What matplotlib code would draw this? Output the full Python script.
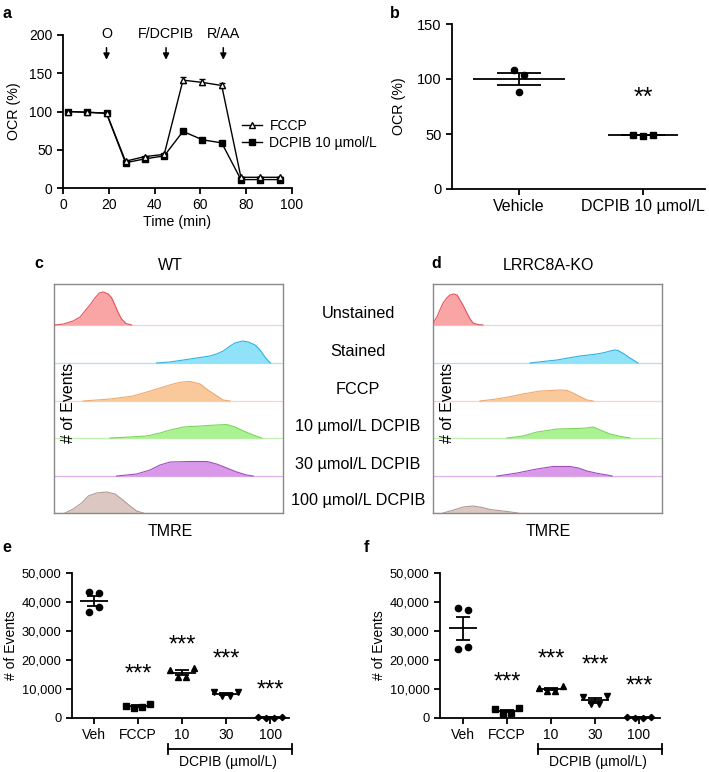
import numpy as np
import matplotlib.pyplot as plt
import matplotlib.transforms as mtransforms
from matplotlib.ticker import FuncFormatter

plt.rcParams['font.family'] = ['Liberation Sans', 'DejaVu Sans']
plt.rcParams['font.size'] = 10
plt.rcParams['axes.linewidth'] = 1.3
plt.rcParams['xtick.major.width'] = 1.3
plt.rcParams['ytick.major.width'] = 1.3
plt.rcParams['xtick.major.size'] = 4
plt.rcParams['ytick.major.size'] = 4

# ---------------------------------------------------------------------------
# Data
# ---------------------------------------------------------------------------

# a: Seahorse OCR trace
time_min = [2, 10.5, 19, 27.3, 35.6, 44.2, 52.4, 60.9, 69.3, 77.7, 86.1, 94.6]
ocr_fccp = [100, 99, 98, 35, 41, 44, 141, 138, 134, 14, 14, 14]
ocr_fccp_err = [0, 0, 0, 0, 0, 0, 4, 4, 3, 0, 0, 0]
ocr_dcpib = [100, 99, 97.5, 33, 38, 42, 74, 63, 59, 11, 11, 11]
inject_times = [19, 45, 70]
inject_labels = ["O", "F/DCPIB", "R/AA"]

# b: maximal OCR
b_groups = ["Vehicle", "DCPIB 10 µmol/L"]
b_vehicle = [108, 103.5, 88.5]
b_dcpib = [49.5, 48.5, 49.5]

# c/d: TMRE histograms (x = TMRE position in % of axis, h = relative count)
hist_rows = ["Unstained", "Stained", "FCCP", "10 µmol/L DCPIB",
             "30 µmol/L DCPIB", "100 µmol/L DCPIB"]

wt_x = [
    [0.4, 4.1, 8.4, 11.4, 13.5, 15.7, 17.9, 19.8, 21.5, 23.7, 25.2, 26.6,
     28.1, 29.5, 31.4, 33.9],
    [44.8, 50.7, 56.5, 62.3, 68.1, 71.0, 73.9, 76.9, 79.0, 82.4, 84.9, 87.8,
     90.0, 92.1, 93.6, 94.6],
    [12.7, 24.5, 34.5, 40.6, 46.3, 52.0, 55.9, 59.4, 63.8, 67.2, 71.2, 73.8,
     76.9],
    [24.5, 33.2, 40.5, 46.3, 50.7, 56.5, 63.8, 71.0, 75.4, 79.0, 82.7, 87.0,
     90.7],
    [27.4, 36.1, 41.9, 46.3, 50.7, 59.4, 66.7, 71.0, 75.4, 79.8, 84.1, 87.0],
    [4.8, 8.4, 12.1, 15.0, 18.6, 23.0, 26.6, 29.5, 33.2, 36.1, 39.0],
]
wt_h = [
    [0, 1, 4, 8, 14, 20, 27, 32, 33, 31, 27, 20, 12, 6, 1.5, 0],
    [0, 1, 3, 5, 7, 9, 12, 17, 20, 22, 21, 18, 13, 6, 2, 0],
    [0, 2, 5, 9, 13, 17, 19, 19.5, 17, 11, 5, 1, 0],
    [0, 1, 2, 5, 8, 11, 12, 13, 13.5, 11, 7, 3, 0],
    [0, 2, 6, 11, 14, 14.5, 14.5, 12, 8, 4, 1, 0],
    [0, 4, 10, 17, 20, 21, 19, 14, 7, 2, 0],
]
ko_x = [
    [0, 1.7, 3.0, 4.4, 6.0, 7.4, 9.2, 10.5, 11.8, 13.3, 14.8, 16.2, 17.5, 19.5,
     21.8],
    [42.4, 48.0, 54.1, 59.0, 64.2, 71.6, 75.0, 77.3, 79.5, 80.8, 83.5, 86.0,
     89.5],
    [20.5, 26.0, 30.6, 35.0, 39.3, 46.7, 52.0, 55.5, 58.5, 61.1, 64.5, 67.2,
     69.9],
    [32.3, 36.0, 39.3, 45.4, 50.0, 54.1, 62.9, 67.0, 69.9, 73.0, 77.3, 82.0,
     86.0],
    [27.9, 32.5, 36.7, 41.0, 45.4, 52.4, 59.8, 63.5, 67.2, 72.0, 76.0, 78.2],
    [4.4, 9.0, 13.1, 17.5, 21.5, 24.9, 28.5, 32.3, 37.1],
]
ko_h = [
    [2, 8, 15, 22, 27, 30, 31, 30, 25, 19, 12, 6, 2, 0.5, 0],
    [0, 1.5, 3, 5, 7, 9, 10.5, 12, 13, 12.5, 9, 5, 0],
    [0, 1.5, 3, 5, 7, 10, 10.5, 11, 10.5, 8, 4, 1, 0],
    [0, 1, 2, 6, 7.5, 9, 9.5, 10, 11, 8, 4, 1.5, 0],
    [0, 1.5, 3, 5, 7, 9.5, 9.5, 8, 5, 2.5, 1, 0],
    [0, 3, 6, 7, 5.5, 3.5, 2.5, 1.5, 0],
]

# e/f: TMRE-positive events
ef_labels = ["Veh", "FCCP", "10", "30", "100"]
e_veh = [43600, 43100, 36700, 38200]
e_fccp = [4200, 3600, 3800, 4700]
e_10 = [16700, 14200, 14200, 17400]
e_30 = [9000, 7600, 7600, 9000]
e_100 = [200, 150, 150, 200]
e_star_y = [None, 15000, 25000, 20200, 9600]

f_veh = [37800, 37300, 23900, 24500]
f_fccp = [3100, 1500, 1700, 3300]
f_10 = [10300, 9400, 9400, 10900]
f_30 = [7300, 4700, 4700, 7500]
f_100 = [200, 150, 150, 200]
f_star_y = [None, 12200, 20300, 18200, 10700]

# ---------------------------------------------------------------------------
# Layout helpers
# ---------------------------------------------------------------------------

W, H = 709, 772
fig = plt.figure(figsize=(W / 100, H / 100), dpi=100)


def add_ax(l, t, r, b):
    return fig.add_axes([l / W, 1 - b / H, (r - l) / W, (b - t) / H])


def ftext(x, y, s, **kw):
    fig.text(x / W, 1 - y / H, s, **kw)


def prism(ax):
    ax.spines["top"].set_visible(False)
    ax.spines["right"].set_visible(False)


def sem(v):
    v = np.asarray(v, float)
    return v.std(ddof=1) / np.sqrt(len(v))


# ---------------------------------------------------------------------------
# a
# ---------------------------------------------------------------------------
ax = add_ax(63, 35, 292, 188)
prism(ax)
ax.plot(time_min, ocr_dcpib, "-s", color="k", lw=1, ms=4.5, mfc="k",
        label="DCPIB 10 µmol/L", zorder=3)
ax.errorbar(time_min, ocr_fccp, yerr=ocr_fccp_err, fmt="none", ecolor="k",
            capsize=2, elinewidth=1, zorder=4)
ax.plot(time_min, ocr_fccp, "-^", color="k", lw=1, ms=5, mfc="white",
        mec="k", mew=1, label="FCCP", zorder=4)
ax.set_xlim(0, 100)
ax.set_ylim(0, 200)
ax.set_xticks(range(0, 101, 20))
ax.set_yticks(range(0, 201, 50))
ax.tick_params(labelsize=10)
ax.set_xlabel("Time (min)", fontsize=10.3, labelpad=2)
ax.set_ylabel("OCR (%)", fontsize=10.3, labelpad=6)
for t, lab in zip(inject_times, inject_labels):
    ax.annotate("", xy=(t, 164), xytext=(t, 187),
                arrowprops=dict(arrowstyle="-|>", color="k", lw=1.1,
                                mutation_scale=9),
                annotation_clip=False)
    ax.text(t, 201, lab, ha="center", va="center", fontsize=10.3, clip_on=False)
h, l = ax.get_legend_handles_labels()
ax.legend(h[::-1], l[::-1], loc="center left", bbox_to_anchor=(0.78, 0.35),
          frameon=False, fontsize=10, handlelength=1.5, handletextpad=0.5,
          labelspacing=0.2, borderaxespad=0, borderpad=0)

# ---------------------------------------------------------------------------
# b
# ---------------------------------------------------------------------------
ax = add_ax(452, 24, 705, 189)
prism(ax)
b_off = [[-0.04, 0.04, 0.0], [-0.08, 0.0, 0.08]]
b_half = [0.37, 0.28]
for i, (vals, mk) in enumerate(zip([b_vehicle, b_dcpib], ["o", "s"])):
    xs = [i + o for o in b_off[i]]
    ax.plot(xs, vals, mk, color="k", ms=4.5, zorder=3)
    m = np.mean(vals)
    ax.hlines(m, i - b_half[i], i + b_half[i], color="k", lw=1.3)
    ax.errorbar(i, m, yerr=sem(vals), color="k", capsize=16, elinewidth=1.3,
                capthick=1.3, fmt="none")
ax.text(1, 83, "**", ha="center", va="center", fontsize=18)
ax.set_xlim(-0.54, 1.5)
ax.set_ylim(0, 150)
ax.set_yticks([0, 50, 100, 150])
ax.set_xticks([0, 1])
ax.set_xticklabels(b_groups, fontsize=11.5)
ax.tick_params(axis="y", labelsize=10.5)
ax.set_ylabel("OCR (%)", fontsize=10.3, labelpad=8)

# ---------------------------------------------------------------------------
# c / d histograms
# ---------------------------------------------------------------------------
fill_colors = ["#f9a5a5", "#90e2f8", "#f9c99c", "#aaf292", "#d999e8", "#dcc7c3"]
edge_colors = ["#e2535b", "#2eb2e0", "#f0a86c", "#78d65c", "#a24cc0", "#b09a94"]
line_colors = ["#f6cfd2", "#a6e4f6", "#f9d6b8", "#c2f0b2", "#dcb0ea", "#d8c6c2"]
row_base = [188, 150, 112, 75, 37, 0]

for (l, r), xs_all, hs_all, title, tx in [((54, 283), wt_x, wt_h, "WT", 170),
                                         ((433, 662), ko_x, ko_h, "LRRC8A-KO", 548)]:
    ax = add_ax(l, 284, r, 513)
    for i in range(6):
        base = row_base[i]
        x = np.asarray(xs_all[i])
        hh = np.asarray(hs_all[i])
        if i > 0:
            ax.axhline(base, color=line_colors[i], lw=0.9, zorder=1)
        ax.fill_between(x, base, base + hh, color=fill_colors[i], lw=0, zorder=2)
        ax.plot(x, base + hh, color=edge_colors[i], lw=0.8, zorder=3)
    ax.axhline(row_base[0], color=line_colors[0], lw=0.9, zorder=1)
    ax.set_xlim(0, 100)
    ax.set_ylim(0, 229)
    ax.set_xticks([])
    ax.set_yticks([])
    for s in ax.spines.values():
        s.set_color("#8a8a8a")
        s.set_linewidth(1)
    ax.text(0.065, 0.48, "# of Events", transform=ax.transAxes, rotation=90,
            ha="center", va="center", fontsize=11.5)
    ftext(tx, 532, "TMRE", ha="center", va="center", fontsize=11.5)
    ftext(tx, 266, title, ha="center", va="center", fontsize=11.5)

for lab, y in zip(hist_rows, [313, 351, 389, 427, 464, 500]):
    ftext(358, y, lab, ha="center", va="center", fontsize=11.7)

# ---------------------------------------------------------------------------
# e / f scatter
# ---------------------------------------------------------------------------
markers = ["o", "s", "^", "v", "D"]
ms_sizes = [4.5, 4.2, 4.8, 4.8, 3.2]
off_veh = [-0.12, 0.12, -0.12, 0.12]
off_spread = [-0.27, -0.09, 0.09, 0.27]
comma = FuncFormatter(lambda v, p: f"{int(v):,}")

for (l, r), groups, star_y, xlim, br in [
    ((72, 289), [e_veh, e_fccp, e_10, e_30, e_100], e_star_y, (-0.5, 4.43), (1.68, 4.5)),
    ((440, 660), [f_veh, f_fccp, f_10, f_30, f_100], f_star_y, (-0.52, 4.48), (1.70, 4.52)),
]:
    ax = add_ax(l, 573, r, 718)
    prism(ax)
    for i, vals in enumerate(groups):
        offs = off_veh if i == 0 else off_spread
        xs = [i + o for o in offs]
        ax.plot(xs, vals, markers[i], color="k", ms=ms_sizes[i], zorder=3,
                clip_on=False)
        m = np.mean(vals)
        ax.hlines(m, i - 0.31, i + 0.31, color="k", lw=1.3, zorder=4)
        ax.errorbar(i, m, yerr=sem(vals), color="k", capsize=5, elinewidth=1.3,
                    capthick=1.3, fmt="none", zorder=4)
        if star_y[i] is not None:
            ax.text(i, star_y[i], "***", ha="center", va="center", fontsize=17)
    ax.set_xlim(*xlim)
    ax.set_ylim(0, 50000)
    ax.set_yticks(range(0, 50001, 10000))
    ax.yaxis.set_major_formatter(comma)
    ax.set_xticks(range(5))
    ax.set_xticklabels(ef_labels, fontsize=10)
    ax.tick_params(axis="y", labelsize=9.3)
    ax.set_ylabel("# of Events", fontsize=10, labelpad=3)
    tr = mtransforms.blended_transform_factory(ax.transData, ax.transAxes)
    yb = -0.214
    ax.plot(br, [yb, yb], color="k", lw=1.3, transform=tr, clip_on=False)
    for xb in br:
        ax.plot([xb, xb], [yb - 0.035, yb + 0.035], color="k", lw=1.3,
                transform=tr, clip_on=False)
    ax.text(sum(br) / 2 - 0.05, -0.305, "DCPIB (µmol/L)", transform=tr,
            ha="center", va="center", fontsize=10)

# panel letters
for lab, x, y in [("a", 7, 14), ("b", 395, 13), ("c", 39, 263), ("d", 436, 263),
                  ("e", 7, 548), ("f", 366, 548)]:
    ftext(x, y, lab, ha="center", va="center", fontsize=11.5, fontweight="bold")

fig.savefig("out.png", dpi=100)
